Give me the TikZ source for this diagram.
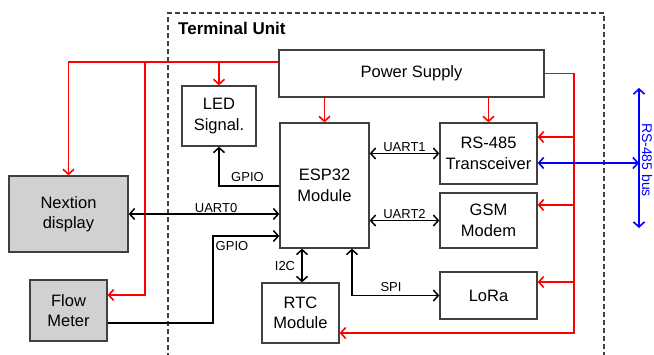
\documentclass[tikz,border=0pt]{standalone}
\usepackage{fontspec}
\setmainfont{Liberation Sans}
\usetikzlibrary{arrows.meta,calc}
\newcommand\boxfont{\fontsize{16.5}{20.5}\selectfont}
\newcommand\lblfont{\fontsize{13}{15}\selectfont}
\definecolor{frame}{HTML}{404040}
\definecolor{pwred}{HTML}{FF0000}
\definecolor{busblue}{HTML}{0000FF}
\begin{document}
\begin{tikzpicture}[x=1pt,y=-1pt,
  >={Straight Barb[length=5pt,width=11pt]},
  blk/.style={draw=frame,line width=1.3pt,align=center,inner sep=0pt,font=\boxfont},
  gblk/.style={blk,fill=black!18},
  pw/.style={draw=pwred,line width=1.6pt,->},
  sig/.style={draw=black,line width=1.5pt},
  bl/.style={draw=busblue,line width=1.6pt,<->},
  lbl/.style={font=\lblfont,inner sep=1pt}]
\useasboundingbox (0,0) rectangle (654,354);
% Terminal unit frame
\draw[draw=frame,line width=1.1pt,dash pattern=on 5pt off 3pt] (168,358) -- (168,13) -- (604,13) -- (604,358);
\node[anchor=base west,font=\fontsize{17}{20}\selectfont\bfseries,inner sep=0pt] (title) at (178,34) {Terminal Unit};
% blocks
\node[blk,minimum width=265pt,minimum height=47pt] (PS) at (411.5,73.5) {Power Supply};
\node[blk,minimum width=74pt,minimum height=60pt] (LED) at (219,116) {LED\\Signal.};
\node[blk,minimum width=89pt,minimum height=125pt] (ESP) at (324.5,185.5) {ESP32\\Module};
\node[blk,minimum width=97pt,minimum height=61pt] (RS) at (488.5,153.5) {RS-485\\Transceiver};
\node[blk,minimum width=97pt,minimum height=55pt] (GSM) at (488.5,220.5) {GSM\\Modem};
\node[blk,minimum width=97pt,minimum height=47pt] (LoRa) at (488.5,295.5) {LoRa};
\node[blk,minimum width=77pt,minimum height=60pt] (RTC) at (300.5,313) {RTC\\Module};
\node[gblk,minimum width=119pt,minimum height=76pt] (Nex) at (68.5,214) {Nextion\\display};
\node[gblk,minimum width=77pt,minimum height=61pt] (Flow) at (68.5,310.5) {Flow\\Meter};
% helper coordinates
\coordinate (topy) at (0,62);
\coordinate (j1) at (145,62);
\coordinate (flowy) at (0,295);
\coordinate (bx) at (574,0);
\coordinate (rsy) at (0,137);
\coordinate (gsmy) at (0,205);
\coordinate (loray) at (0,282);
\coordinate (rtcy) at (0,333);
\coordinate (gpioy) at (0,186);
\coordinate (flowsig) at (0,323);
\coordinate (gpcorner) at (213,236);
\coordinate (i2cx) at (302,0);
\coordinate (spix) at (352,0);
\coordinate (bt) at (639,88);
\coordinate (bb) at (639,228);
\coordinate (bm) at (639,163);
% power lines
\draw[pw] (PS.west |- topy) -| (Nex.north);
\draw[pw] (j1) |- (Flow.east |- flowy);
\draw[pw] (LED.north |- topy) -- (LED.north);
\draw[pw] (PS.south -| ESP.north) -- (ESP.north);
\draw[pw] (PS.south -| RS.north) -- (RS.north);
\draw[pw] (PS.east) -| (bx |- rtcy) -- (RTC.east |- rtcy);
\draw[pw] (bx |- rsy) -- (RS.east |- rsy);
\draw[pw] (bx |- gsmy) -- (GSM.east |- gsmy);
\draw[pw] (bx |- loray) -- (LoRa.east |- loray);
% signal lines
\draw[sig,<->] (ESP.east |- RS.west) -- (RS.west) node[lbl,midway,above] {UART1};
\draw[sig,<->] (ESP.east |- GSM.west) -- (GSM.west) node[lbl,midway,above] {UART2};
\draw[sig,<->] (Nex.east) -- (Nex.east -| ESP.west) node[lbl,pos=0.58,above] {UART0};
\draw[sig,->] (Flow.east |- flowsig) -| (gpcorner) -- (ESP.west |- gpcorner);
\node[lbl] (gpio2) at (232,246) {GPIO};
\draw[sig,->] (ESP.west |- gpioy) -| (LED.south);
\node[lbl] (gpio1) at (247.5,177) {GPIO};
\draw[sig,<->] (ESP.south -| i2cx) -- (RTC.north -| i2cx);
\node[lbl] (i2c) at (285,266) {I2C};
\draw[sig,<->] (ESP.south -| spix) |- (LoRa.west);
\node[lbl] (spi) at (391,287) {SPI};
% RS-485 bus
\draw[bl] (bt) -- (bb);
\draw[bl] (RS.east |- bm) -- (bm);
\node[font=\fontsize{14}{16}\selectfont,text=busblue,rotate=-90,inner sep=0pt] (buslbl) at (647,160) {RS-485 bus};
\end{tikzpicture}
\end{document}
